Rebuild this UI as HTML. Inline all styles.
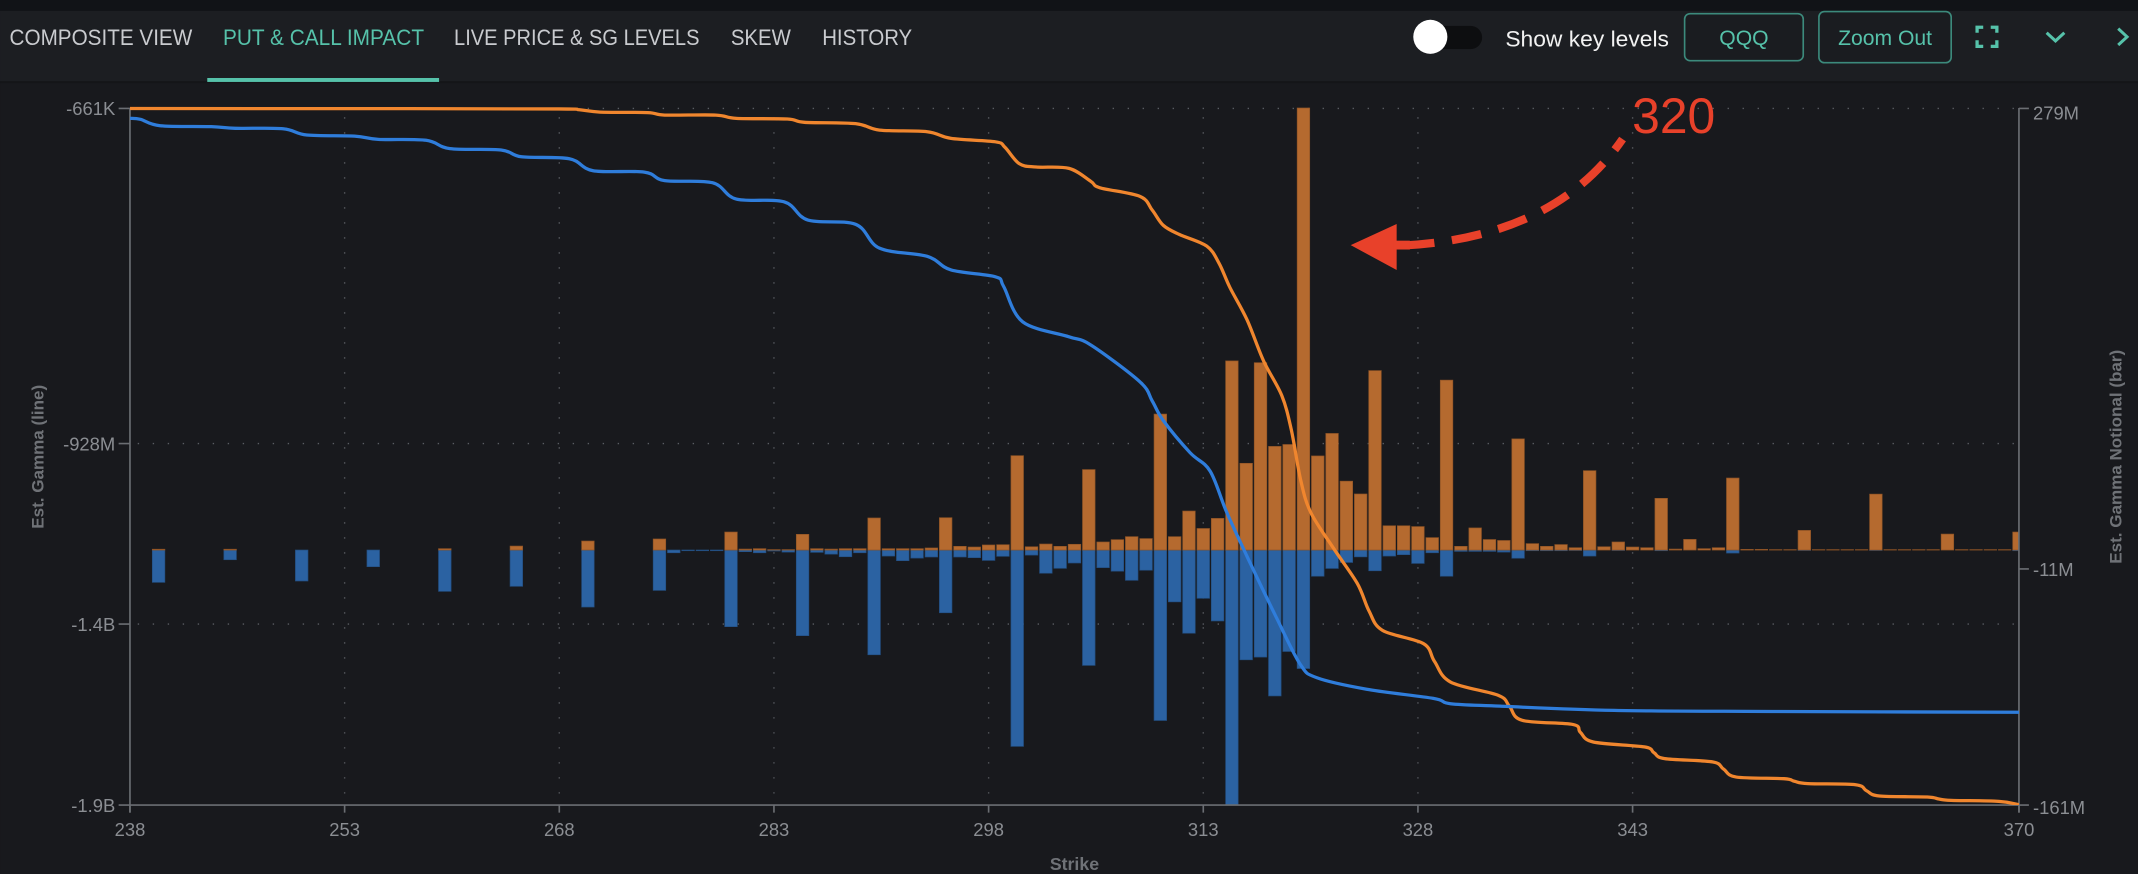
<!DOCTYPE html>
<html><head><meta charset="utf-8">
<style>
html,body{margin:0;padding:0;background:#18191d;overflow:hidden;}
svg{display:block;}
text{font-family:"Liberation Sans",sans-serif;}
</style></head>
<body>
<svg id="s" width="2138" height="874" viewBox="0 0 1568 641" xmlns="http://www.w3.org/2000/svg">
<defs><clipPath id="pc"><rect x="95.3" y="70" width="1385.4" height="520.4"/></clipPath></defs>
<rect width="1568" height="641" fill="#18191d"/>
<rect width="1568" height="60" fill="#1c1e22"/>
<rect width="1568" height="8" fill="#111317"/>
<rect y="59.5" width="1568" height="1.5" fill="#141518"/>
<g font-size="16.5" fill="#c9cbcf">
<text x="7" y="33" textLength="134" lengthAdjust="spacingAndGlyphs">COMPOSITE VIEW</text>
<text x="163.5" y="33" textLength="147.5" lengthAdjust="spacingAndGlyphs" fill="#56c2aa">PUT &amp; CALL IMPACT</text>
<text x="333" y="33" textLength="180" lengthAdjust="spacingAndGlyphs">LIVE PRICE &amp; SG LEVELS</text>
<text x="536" y="33" textLength="44" lengthAdjust="spacingAndGlyphs">SKEW</text>
<text x="603" y="33" textLength="66" lengthAdjust="spacingAndGlyphs">HISTORY</text>
</g>
<rect x="152" y="57.2" width="170" height="2.9" fill="#56c2aa"/>
<rect x="1038" y="19" width="49" height="17" rx="8.5" fill="#0d0e10"/>
<circle cx="1049" cy="27" r="12.5" fill="#ffffff"/>
<text x="1104" y="34" font-size="16.5" fill="#f2f2f2" textLength="120" lengthAdjust="spacingAndGlyphs">Show key levels</text>
<rect x="1235.5" y="10" width="87" height="34.5" rx="4" fill="#1a1c20" stroke="#3c8a7c" stroke-width="1.2"/>
<text x="1279" y="33" font-size="15.5" fill="#56c2aa" text-anchor="middle">QQQ</text>
<rect x="1334" y="8.5" width="97" height="37.5" rx="4" fill="#1a1c20" stroke="#3c8a7c" stroke-width="1.2"/>
<text x="1382.5" y="33" font-size="15.5" fill="#56c2aa" text-anchor="middle">Zoom Out</text>
<g stroke="#56c2aa" stroke-width="2.4" fill="none">
<path d="M1450,24V20H1454.5M1460,20H1464.5V24M1464.5,29.5V34H1460M1454.5,34H1450V29.5"/>
<path d="M1501,24L1507.5,30L1514,24" stroke-width="2.2"/>
<path d="M1553.5,21L1560,27L1553.5,33" stroke-width="2.2"/>
</g>
<g stroke="#5a5d63" stroke-width="1" stroke-dasharray="1 10" fill="none">
<path d="M101,79.5H1480M101,325.3H1480M101,457.7H1480"/>
<g id="vg"></g>
</g>
<g id="bars" clip-path="url(#pc)"></g>
<g stroke="#6b6e73" stroke-width="1.2" fill="none">
<path d="M95.3,79.2V596M87,79.5H95.3M87,325.3H95.3M87,457.7H95.3M87,590.4H1488"/>
<path d="M1480.7,79.2V596M1480.7,79.5H1488M1480.7,417.3H1488"/>
<g id="xt"></g>
</g>
<g font-size="13.5" fill="#8b8e93">
<text x="84.5" y="84.5" text-anchor="end">-661K</text>
<text x="84.5" y="330.3" text-anchor="end">-928M</text>
<text x="84.5" y="462.7" text-anchor="end">-1.4B</text>
<text x="84.5" y="595.4" text-anchor="end">-1.9B</text>
<text x="1491" y="87.5">279M</text>
<text x="1491" y="422.3">-11M</text>
<text x="1491" y="597">-161M</text>
<g id="xl"></g>
</g>
<text transform="translate(32,335) rotate(-90)" font-size="12.5" font-weight="bold" fill="#6f7277" text-anchor="middle">Est. Gamma (line)</text>
<text transform="translate(1556,335) rotate(-90)" font-size="12.5" font-weight="bold" fill="#6f7277" text-anchor="middle">Est. Gamma Notional (bar)</text>
<text x="788" y="638" font-size="13" font-weight="bold" fill="#6f7277" text-anchor="middle">Strike</text>
<g fill="none" stroke-width="2.4" stroke-linejoin="round" stroke-linecap="round" clip-path="url(#pc)">
<polyline class="sm" stroke="#f0862e" points="95.3,79.6 300,79.7 410,79.9 425,80.5 440,82.2 475,82.6 487.5,84.4 525,84.4 540,86.8 577.5,87.3 590,89.7 627.5,90.7 645,95.4 680,96.6 697.5,101.5 730,104 737,108 747.5,120 760,122.5 784,123.5 800,133 806.7,137.7 836,144 845,154 853.2,165.3 865,172 885,180.5 894,193 902,210.8 914.5,234.4 926.7,264.7 940,290 947,315 953.9,352 961.3,375.8 978.4,402.7 995.5,428 1004,448 1013.9,462.3 1043.9,472 1052,485 1063.8,500.2 1098.9,510 1107,518 1116.4,528.3 1153.4,531.3 1159,537 1168.5,544.2 1205.9,547.8 1213,552 1220.9,556.4 1255.9,558.8 1264,564 1273.4,569.9 1308.4,571.1 1316,573 1325.9,574.7 1360.9,575.5 1369,580 1378.4,583.8 1413.4,584.5 1422,586 1430.9,587 1465.9,587.7 1480.4,590.1"/>
<polyline class="sm" stroke="#2f7ddb" points="95.5,86.8 103,87.5 117.5,92.2 155,92.9 172.5,94.1 207.5,94.4 225,99 260,99.8 277.5,102.2 312.5,102.9 330,109 367.5,110 382.5,115 417.5,116.4 435,125.2 472.5,126.2 487.5,132.5 522.5,134 540,146 575,148 592.5,161.4 627.5,164.5 645,182 680,188 697.5,198 730,203 736,210 750,236 784,247 800,253 836,280 845,294 853.2,308.5 872.8,332 887.5,345.5 899.7,375.8 916.8,412.8 936.3,453.3 953.4,486.9 965.6,497 1002.3,505.5 1051.2,512.2 1063.8,516.1 1100.1,517.9 1183.8,521 1300,521.8 1480.3,522.4"/>
</g>
<path d="M1030,180 Q1140,174 1190,102" fill="none" stroke="#e8412a" stroke-width="6" stroke-dasharray="22 13"/>
<path d="M990.6,179.8 L1024.3,164.3 L1024.3,198 Z" fill="#e8412a"/>
<rect x="1022" y="176.5" width="12" height="6.5" fill="#e8412a"/>
<text x="1197" y="97.5" font-size="37" fill="#e8412a" textLength="61" lengthAdjust="spacingAndGlyphs">320</text>
</svg>
<script>
(function(){
var NS="http://www.w3.org/2000/svg";
function X(s){return 95.3+(s-238)*10.4957;}
var Z=403.4;
var d={240:[0.6,23.7],245:[0.6,7.1],250:[0,22.7],255:[0,12.2],260:[1,30.3],265:[2.9,26.6],270:[6.6,41.8],275:[8.1,29.6],280:[13.2,56.2],285:[11.5,62.8],290:[23.5,76.8],295:[23.7,46],300:[69.2,144],305:[59,84.6],
276:[0,2],277:[0,0.5],278:[0,0.5],279:[0,0.5],281:[0.7,1.2],282:[1,2],283:[0.3,0.7],284:[0.3,1.5],
286:[1,1.7],287:[0.7,3],288:[1,4.9],289:[1,2],291:[1,4.4],292:[1,7.8],293:[1,5.9],294:[1.5,5.1],
296:[2.7,5.1],297:[2.2,5.6],298:[3.7,7.6],299:[3.9,4.6],301:[2.4,3.7],302:[4.4,17],303:[2.7,13.4],304:[4.2,9.5],
306:[5.9,12.9],307:[7.6,15.5],308:[9.8,22.2],309:[8.4,14.8],310:[99.7,125],311:[9.8,38],312:[28.6,61],313:[15.8,35.4],314:[23.2,52],
315:[138.7,190],316:[63.6,80.5],317:[137.4,78.5],318:[76,107],319:[77.4,74.4],320:[324.2,86.9],321:[69,19.2],322:[85.5,13.5],323:[50.5,9.1],324:[41.1,5],
325:[131.6,15.2],326:[17.8,4.4],327:[17.8,3.4],328:[17.2,9.8],329:[9.1,2],330:[124.6,19.2],331:[2.7,1],332:[16.2,1],333:[7.7,1],334:[7,1.5],
335:[81.5,6],336:[4.7,0.5],337:[2.7,0.5],338:[4,0.5],339:[1.7,0.3],340:[58.2,4.4],341:[2.4,0],342:[5.9,0.3],343:[2.2,0],344:[1.7,0],345:[37.9,0.5],
346:[0.7,0],347:[7.8,0],348:[1,0],349:[1.7,0],350:[52.8,2.2],351:[0.5,0],352:[0.5,0],353:[0.3,0],354:[0.3,0],355:[14.4,0.3],356:[0.3,0],357:[0.3,0],358:[0.3,0],359:[0.3,0],
360:[41,0.3],361:[0.3,0],362:[0.3,0],363:[0.3,0],364:[0.3,0],365:[11.7,0],366:[0.3,0],367:[0.3,0],368:[0.3,0],369:[0.3,0],370:[13.2,0.5]};
var g=document.getElementById('bars');
for(var k in d){var s=+k,x=X(s)-4.6,o=d[k][0],b=d[k][1];
 if(b>0){var r=document.createElementNS(NS,'rect');r.setAttribute('x',x);r.setAttribute('y',Z);r.setAttribute('width',9.2);r.setAttribute('height',b);r.setAttribute('fill','#2b62a2');r.setAttribute('stroke','#234f82');r.setAttribute('stroke-width','0.5');g.appendChild(r);}
 if(o>0){var r2=document.createElementNS(NS,'rect');r2.setAttribute('x',x);r2.setAttribute('y',Z-o);r2.setAttribute('width',9.2);r2.setAttribute('height',o);r2.setAttribute('fill','#b56a2f');r2.setAttribute('stroke','#8f5426');r2.setAttribute('stroke-width','0.5');g.appendChild(r2);}
}
var vg=document.getElementById('vg'),xt=document.getElementById('xt'),xl=document.getElementById('xl');
[238,253,268,283,298,313,328,343,370].forEach(function(s){var x=X(s);
 if(s!=238&&s!=370){var p=document.createElementNS(NS,'path');p.setAttribute('d','M'+x+',86V590');vg.appendChild(p);}
 var t=document.createElementNS(NS,'path');t.setAttribute('d','M'+x+',590.4V596');xt.appendChild(t);
 var tx=document.createElementNS(NS,'text');tx.setAttribute('x',x);tx.setAttribute('y',613);tx.setAttribute('text-anchor','middle');tx.textContent=s;xl.appendChild(tx);
});
var pls=document.querySelectorAll('polyline.sm');
for(var i=0;i<pls.length;i++){var pl=pls[i];
 var pts=pl.getAttribute('points').trim().split(/\s+/).map(function(q){var a=q.split(',');return [+a[0],+a[1]];});
 var dd='M'+pts[0][0]+','+pts[0][1];
 for(var j=0;j<pts.length-1;j++){var p0=pts[j-1]||pts[j],p1=pts[j],p2=pts[j+1],p3=pts[j+2]||p2;
  var c1x=p1[0]+(p2[0]-p0[0])/6,c1y=p1[1]+(p2[1]-p0[1])/6,c2x=p2[0]-(p3[0]-p1[0])/6,c2y=p2[1]-(p3[1]-p1[1])/6;
  dd+='C'+c1x.toFixed(2)+','+c1y.toFixed(2)+' '+c2x.toFixed(2)+','+c2y.toFixed(2)+' '+p2[0]+','+p2[1];}
 var path=document.createElementNS(NS,'path');path.setAttribute('d',dd);path.setAttribute('stroke',pl.getAttribute('stroke'));
 pl.parentNode.replaceChild(path,pl);}
})();
</script>
</body></html>
